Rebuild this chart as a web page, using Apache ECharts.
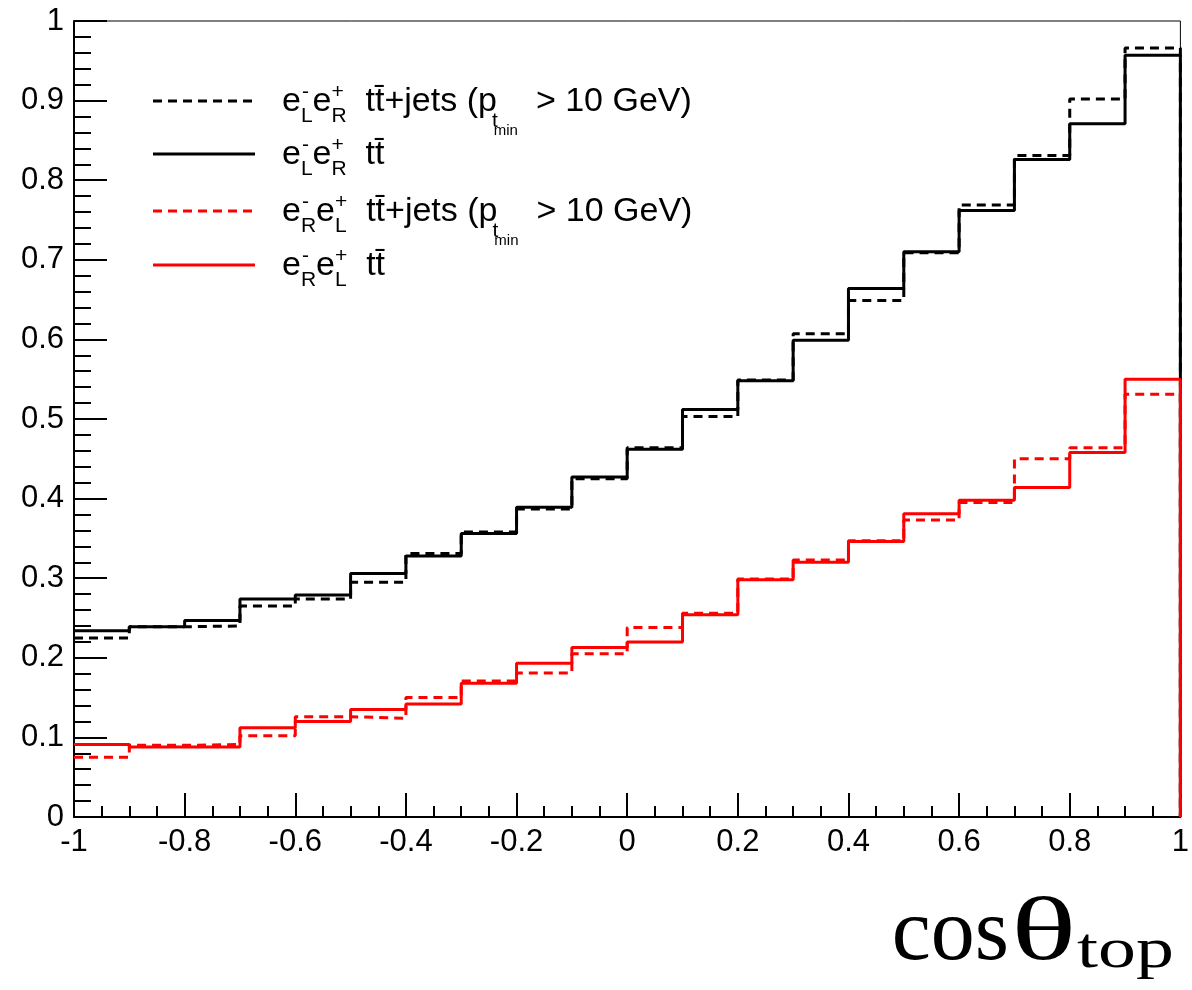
<!DOCTYPE html>
<html><head><meta charset="utf-8">
<script src="https://cdn.jsdelivr.net/npm/echarts@6/dist/echarts.min.js"></script>
<style>html,body{margin:0;padding:0;background:#fff}#c{width:1192px;height:990px}</style>
</head><body><div id="c"></div>
<script>
// ---- data ----
const binEdges = [-1.0,-0.9,-0.8,-0.7,-0.6,-0.5,-0.4,-0.3,-0.2,-0.1,0.0,0.1,0.2,0.3,0.4,0.5,0.6,0.7,0.8,0.9,1.0];
const lrTtJets = [0.225,0.239,0.240,0.265,0.274,0.295,0.331,0.358,0.387,0.425,0.464,0.503,0.549,0.607,0.649,0.709,0.769,0.831,0.902,0.966];
const lrTt     = [0.234,0.239,0.247,0.274,0.279,0.306,0.328,0.356,0.389,0.427,0.462,0.512,0.548,0.599,0.664,0.710,0.762,0.826,0.871,0.957];
const rlTtJets = [0.075,0.090,0.091,0.102,0.126,0.124,0.150,0.171,0.181,0.205,0.238,0.256,0.299,0.323,0.347,0.373,0.395,0.450,0.464,0.531];
const rlTt     = [0.091,0.088,0.088,0.112,0.120,0.135,0.142,0.168,0.193,0.213,0.220,0.254,0.298,0.320,0.346,0.381,0.398,0.414,0.458,0.550];
const xTitleCos = 'cos';
const xTitleTheta = 'θ';
const xTitleSub = 'top';

function stepData(vals){
  const d = [];
  vals.forEach((v, i) => { d.push([binEdges[i], v]); d.push([binEdges[i+1], v]); });
  d.push([binEdges[binEdges.length-1], 0]);
  return d;
}

const SANS = 'Liberation Sans';
const SERIF = 'Liberation Serif';
const ctx = document.createElement('canvas').getContext('2d');
function tw(t, s, fam){ ctx.font = s + 'px "' + fam + '"'; return ctx.measureText(t).width; }

const F = 34, FS = 21, FSS = 15;
function txt(t, x, yBase, s, fam){
  return {type:'text', x: x, y: yBase - 0.33*s, silent:true,
    style:{text:t, fontSize:s, fontFamily:fam||SANS, fill:'#000', textAlign:'left', textVerticalAlign:'middle'}};
}
function buildLabel(x0, yBase, parts){
  let x = x0; const els = [];
  parts.forEach(p => {
    if (p.stack){
      let w = 0;
      p.stack.forEach(q => { els.push(txt(q.t, x + (q.dx||0), yBase + q.dy, q.s)); w = Math.max(w, tw(q.t, q.s, SANS) + (q.dx||0)); });
      x += w + (p.gap||0);
    } else {
      els.push(txt(p.t, x, yBase, F));
      x += tw(p.t, F, SANS) + (p.gap||0);
    }
  });
  return els;
}
function eeParts(a, b){
  return [
    {t:'e'}, {stack:[{t:'-', s:FS, dy:-14, dx:1},{t:a, s:FS, dy:10}]},
    {t:'e'}, {stack:[{t:'+', s:FS, dy:-14},{t:b, s:FS, dy:10}]}
  ];
}
function jetsParts(){
  return [
    {t:'  tt\u0304+jets (p'},
    {stack:[{t:'t', s:FS, dy:15, dx:-5}]},
    {stack:[{t:'min', s:FSS, dy:23, dx:-4}], gap:18},
    {t:'> 10 GeV)'}
  ];
}
const rows = [
  {y:101, color:'#000', dash:[9,6], parts: eeParts('L','R').concat(jetsParts())},
  {y:154, color:'#000', dash:null,  parts: eeParts('L','R').concat([{t:'  tt\u0304'}])},
  {y:211, color:'#ff0000', dash:[9,6], parts: eeParts('R','L').concat(jetsParts())},
  {y:265, color:'#ff0000', dash:null,  parts: eeParts('R','L').concat([{t:'  tt\u0304'}])}
];
const graphics = [];
rows.forEach(r => {
  graphics.push({type:'line', silent:true, shape:{x1:153, y1:r.y, x2:255, y2:r.y},
    style:{stroke:r.color, lineWidth:3, lineDash:r.dash || null}});
  buildLabel(282, r.y + 12, r.parts).forEach(e => graphics.push(e));
});
// x-axis title  (serif, baseline ~962, subscript baseline ~969)
function serifTxt(t, x, yBase, s, sx, align){
  return {type:'text', x:x, y:yBase - 0.3*s, scaleX:sx, silent:true,
    style:{text:t, fontSize:s, fontFamily:SERIF, fill:'#000', textAlign:align||'left', textVerticalAlign:'middle'}};
}
graphics.push(serifTxt(xTitleCos, 1009, 962, 88, 1, 'right'));
graphics.push(serifTxt(xTitleTheta, 1011, 962, 88, 1.55));
graphics.push(serifTxt(xTitleSub, 1077, 969, 57, 1.33));

function mkSeries(name, vals, color, dashed){
  return {name:name, type:'line', data:stepData(vals), showSymbol:false, symbol:'none', clip:false,
    lineStyle:{color:color, width:3, type: dashed ? [9,6] : 'solid'}, animation:false, z: 3};
}

const chart = echarts.init(document.getElementById('c'), null, {renderer:'canvas'});
chart.setOption({
  animation:false,
  backgroundColor:'#fff',
  grid:{left:74, right:11, top:21, bottom:173, show:true, borderColor:'#000', borderWidth:1},
  xAxis:{type:'value', min:-1, max:1, interval:0.2,
    axisLine:{show:true, onZero:false, lineStyle:{color:'#000', width:2}},
    axisTick:{show:true, inside:true, length:24, lineStyle:{color:'#000', width:2}},
    minorTick:{show:true, splitNumber:4, length:11, lineStyle:{color:'#000', width:2}},
    splitLine:{show:false},
    axisLabel:{color:'#000', fontSize:31, fontFamily:SANS, margin:10}
  },
  yAxis:{type:'value', min:0, max:1, interval:0.1,
    axisLine:{show:true, onZero:false, lineStyle:{color:'#000', width:2}},
    axisTick:{show:true, inside:true, length:33, lineStyle:{color:'#000', width:2}},
    minorTick:{show:true, splitNumber:5, length:17, lineStyle:{color:'#000', width:2}},
    splitLine:{show:false},
    axisLabel:{color:'#000', fontSize:31, fontFamily:SANS, margin:10}
  },
  series:[
    mkSeries('LR tt+jets', lrTtJets, '#000', true),
    mkSeries('LR tt', lrTt, '#000', false),
    mkSeries('RL tt+jets', rlTtJets, '#ff0000', true),
    mkSeries('RL tt', rlTt, '#ff0000', false)
  ],
  graphic: graphics
});
</script></body></html>
